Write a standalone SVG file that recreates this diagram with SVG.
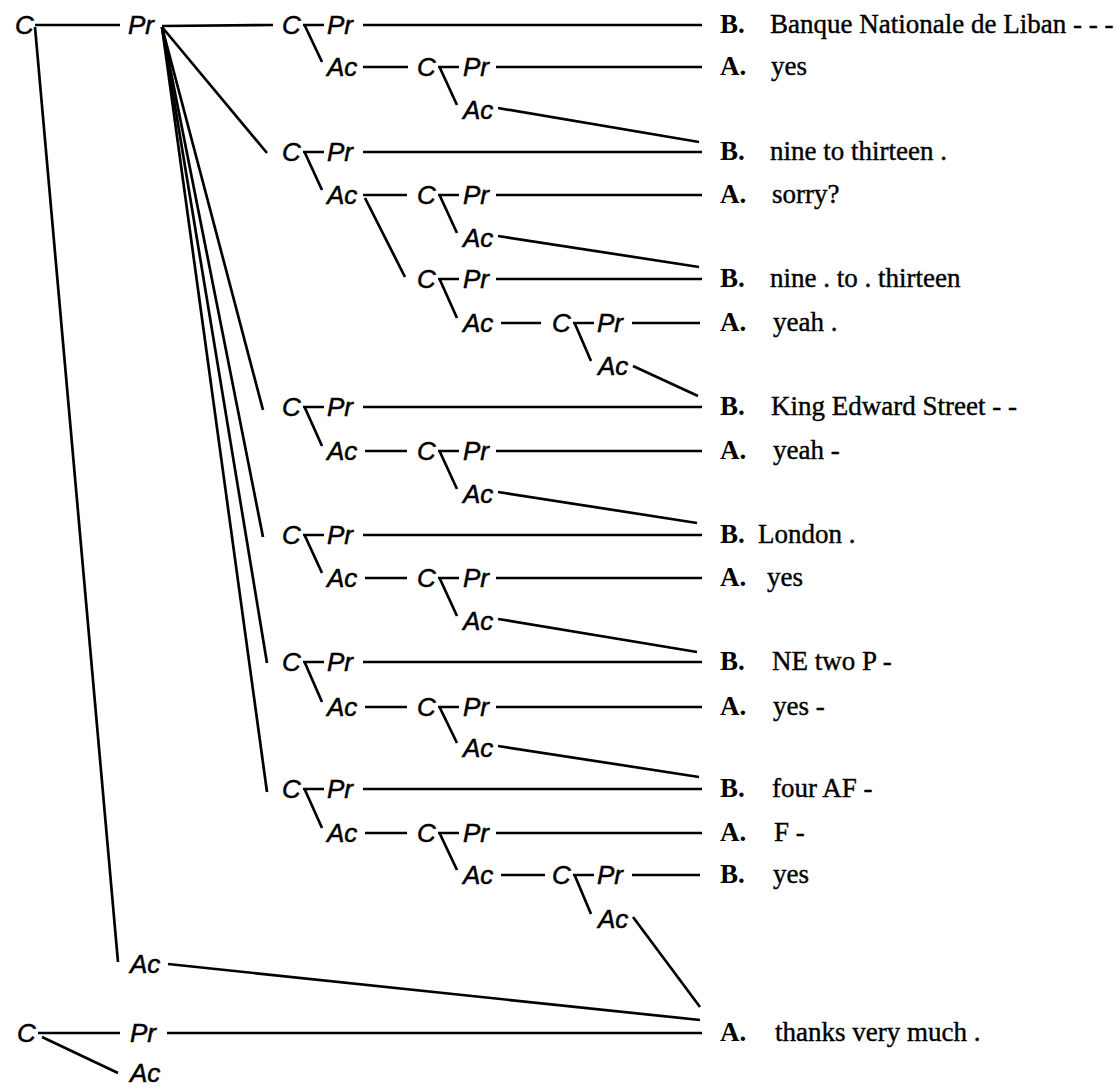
<svg xmlns="http://www.w3.org/2000/svg" width="1116" height="1089" viewBox="0 0 1116 1089">
  <style>
    .n { font-family: "Liberation Sans", Arial, sans-serif; font-style: italic; font-size: 26px; fill: #000; stroke: #000; stroke-width: 0.5; }
    .sp { font-family: "Liberation Serif", "Times New Roman", serif; font-weight: bold; font-size: 27px; fill: #000; }
    .ut { font-family: "Liberation Serif", "Times New Roman", serif; font-size: 27px; fill: #000; stroke: #000; stroke-width: 0.4; }
    .ln { stroke: #000; stroke-width: 2.7; fill: none; stroke-linecap: butt; }
  </style>
  <rect width="1116" height="1089" fill="#fff"/>

  <!-- connectors -->
  <g id="connectors" class="ln">
    <!-- top-level exchange -->
    <path d="M35 25H120"/>
    <path d="M35 27L118 962"/>
    <!-- fan from Pr -->
    <path d="M162 26L273 25"/>
    <path d="M162 27L267 153"/>
    <path d="M162 27L263 410"/>
    <path d="M162 27L263 537"/>
    <path d="M162 27L267 663"/>
    <path d="M162 27L267 792"/>

    <!-- level-1 C brackets (C at x=282) -->
    <path d="M303 25H324M305 26L322 62"/>
    <path d="M303 152H324M305 153L322 190"/>
    <path d="M303 407H324M305 408L322 446"/>
    <path d="M303 535H324M305 536L322 573"/>
    <path d="M303 662H324M305 663L322 702"/>
    <path d="M303 789H324M305 790L322 828"/>

    <!-- level-1 Pr lines -->
    <path d="M363 25H702"/>
    <path d="M363 152H702"/>
    <path d="M363 407H702"/>
    <path d="M363 535H702"/>
    <path d="M363 662H702"/>
    <path d="M363 789H702"/>

    <!-- level-1 Ac to C -->
    <path d="M363 67H408"/>
    <path d="M363 195H407M365 198L405 277"/>
    <path d="M365 451H407"/>
    <path d="M365 578H407"/>
    <path d="M365 707H407"/>
    <path d="M365 833H407"/>

    <!-- level-2 C brackets (C at x=417) -->
    <path d="M438 67H459M440 68L457 105"/>
    <path d="M438 195H459M440 196L457 233"/>
    <path d="M438 279H459M440 280L457 318"/>
    <path d="M438 451H459M440 452L457 489"/>
    <path d="M438 578H459M440 579L457 616"/>
    <path d="M438 707H459M440 708L457 743"/>
    <path d="M438 833H459M440 834L457 870"/>

    <!-- level-2 Pr lines -->
    <path d="M496 67H702"/>
    <path d="M496 195H702"/>
    <path d="M496 279H702"/>
    <path d="M496 451H702"/>
    <path d="M496 578H702"/>
    <path d="M496 707H702"/>
    <path d="M496 833H702"/>

    <!-- level-2 Ac converging on the next move -->
    <path d="M498 108L699 142"/>
    <path d="M498 236L699 267"/>
    <path d="M498 492L697 523"/>
    <path d="M498 619L697 652"/>
    <path d="M498 746L699 777"/>

    <!-- level-2 Ac to C -->
    <path d="M501 323H541"/>
    <path d="M501 875H545"/>

    <!-- level-3 C brackets (C at x=552) -->
    <path d="M573 323H594M575 324L591 361"/>
    <path d="M573 875H594M575 876L591 914"/>

    <!-- level-3 Pr lines -->
    <path d="M632 323H700"/>
    <path d="M632 875H700"/>

    <!-- level-3 Ac converging -->
    <path d="M633 366L698 396"/>
    <path d="M633 917L700 1007"/>

    <!-- closing Ac of the top exchange -->
    <path d="M168 964L700 1020"/>

    <!-- closing exchange -->
    <path d="M38 1033H120"/>
    <path d="M42 1037L118 1073"/>
    <path d="M167 1033H702"/>
  </g>

  <!-- top-level exchange nodes -->
  <g id="n-top">
    <text class="n" x="15" y="34">C</text>
    <text class="n" x="128" y="34">Pr</text>
    <text class="n" x="130" y="973">Ac</text>
  </g>

  <!-- exchange 1 -->
  <g id="n-e1">
    <text class="n" x="282" y="34">C</text>
    <text class="n" x="327" y="34">Pr</text>
    <text class="n" x="327" y="76">Ac</text>
    <text class="n" x="417" y="76">C</text>
    <text class="n" x="463" y="76">Pr</text>
    <text class="n" x="463" y="119">Ac</text>
  </g>

  <!-- exchange 2 -->
  <g id="n-e2">
    <text class="n" x="282" y="161">C</text>
    <text class="n" x="327" y="161">Pr</text>
    <text class="n" x="327" y="204">Ac</text>
    <text class="n" x="417" y="204">C</text>
    <text class="n" x="463" y="204">Pr</text>
    <text class="n" x="463" y="247">Ac</text>
    <text class="n" x="417" y="288">C</text>
    <text class="n" x="463" y="288">Pr</text>
    <text class="n" x="463" y="332">Ac</text>
    <text class="n" x="552" y="332">C</text>
    <text class="n" x="597" y="332">Pr</text>
    <text class="n" x="598" y="375">Ac</text>
  </g>

  <!-- exchange 3 -->
  <g id="n-e3">
    <text class="n" x="282" y="416">C</text>
    <text class="n" x="327" y="416">Pr</text>
    <text class="n" x="327" y="460">Ac</text>
    <text class="n" x="417" y="460">C</text>
    <text class="n" x="463" y="460">Pr</text>
    <text class="n" x="463" y="503">Ac</text>
  </g>

  <!-- exchange 4 -->
  <g id="n-e4">
    <text class="n" x="282" y="544">C</text>
    <text class="n" x="327" y="544">Pr</text>
    <text class="n" x="327" y="587">Ac</text>
    <text class="n" x="417" y="587">C</text>
    <text class="n" x="463" y="587">Pr</text>
    <text class="n" x="463" y="630">Ac</text>
  </g>

  <!-- exchange 5 -->
  <g id="n-e5">
    <text class="n" x="282" y="671">C</text>
    <text class="n" x="327" y="671">Pr</text>
    <text class="n" x="327" y="716">Ac</text>
    <text class="n" x="417" y="716">C</text>
    <text class="n" x="463" y="716">Pr</text>
    <text class="n" x="463" y="757">Ac</text>
  </g>

  <!-- exchange 6 -->
  <g id="n-e6">
    <text class="n" x="282" y="798">C</text>
    <text class="n" x="327" y="798">Pr</text>
    <text class="n" x="327" y="842">Ac</text>
    <text class="n" x="417" y="842">C</text>
    <text class="n" x="463" y="842">Pr</text>
    <text class="n" x="463" y="884">Ac</text>
    <text class="n" x="552" y="884">C</text>
    <text class="n" x="597" y="884">Pr</text>
    <text class="n" x="598" y="928">Ac</text>
  </g>

  <!-- closing exchange -->
  <g id="n-close">
    <text class="n" x="17" y="1042">C</text>
    <text class="n" x="130" y="1042">Pr</text>
    <text class="n" x="130" y="1082">Ac</text>
  </g>

  <!-- transcript moves -->
  <g id="moves">
    <text class="sp" x="720" y="33">B.</text><text class="ut" x="770" y="33">Banque Nationale de Liban - - -</text>
    <text class="sp" x="720" y="75">A.</text><text class="ut" x="771" y="75">yes</text>
    <text class="sp" x="720" y="160">B.</text><text class="ut" x="770" y="160">nine to thirteen .</text>
    <text class="sp" x="720" y="203">A.</text><text class="ut" x="772" y="203">sorry?</text>
    <text class="sp" x="720" y="287">B.</text><text class="ut" x="770" y="287">nine . to . thirteen</text>
    <text class="sp" x="720" y="331">A.</text><text class="ut" x="773" y="331">yeah .</text>
    <text class="sp" x="720" y="415">B.</text><text class="ut" x="771" y="415">King Edward Street - -</text>
    <text class="sp" x="720" y="459">A.</text><text class="ut" x="773" y="459">yeah -</text>
    <text class="sp" x="720" y="543">B.</text><text class="ut" x="758" y="543">London .</text>
    <text class="sp" x="720" y="586">A.</text><text class="ut" x="767" y="586">yes</text>
    <text class="sp" x="720" y="670">B.</text><text class="ut" x="772" y="670">NE two P -</text>
    <text class="sp" x="720" y="715">A.</text><text class="ut" x="773" y="715">yes -</text>
    <text class="sp" x="720" y="797">B.</text><text class="ut" x="772" y="797">four AF -</text>
    <text class="sp" x="720" y="841">A.</text><text class="ut" x="774" y="841">F -</text>
    <text class="sp" x="720" y="883">B.</text><text class="ut" x="773" y="883">yes</text>
    <text class="sp" x="720" y="1041">A.</text><text class="ut" x="775" y="1041">thanks very much .</text>
  </g>
</svg>
